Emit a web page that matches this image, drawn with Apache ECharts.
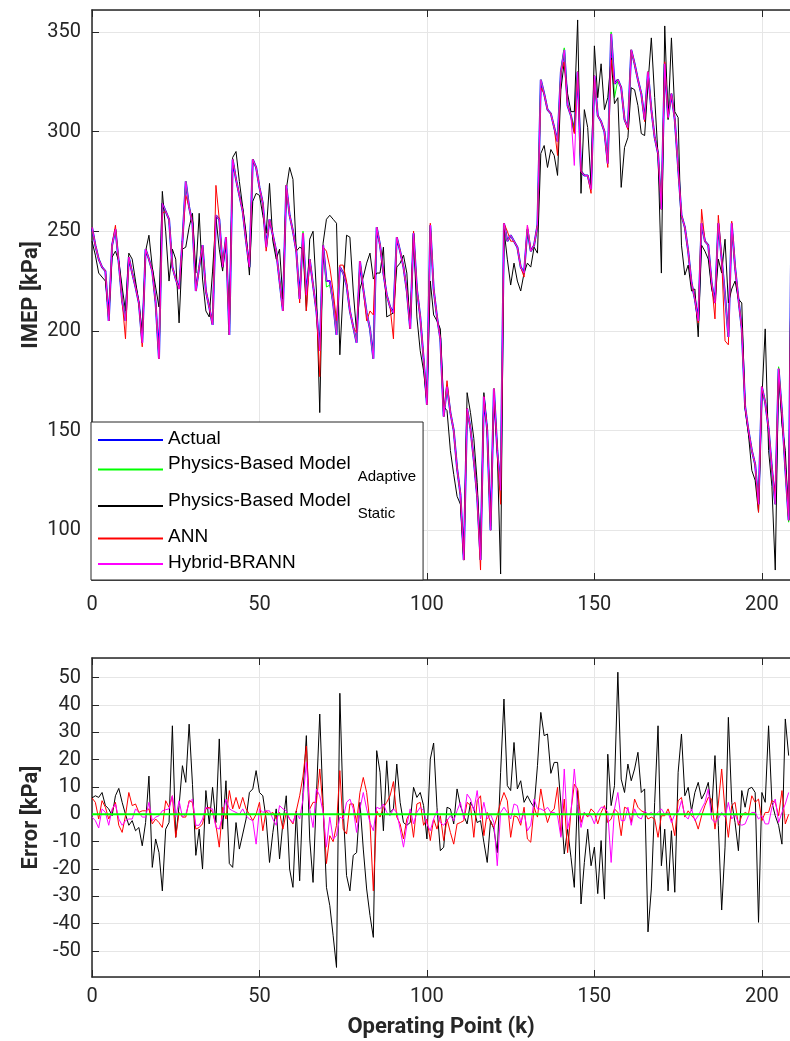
<!DOCTYPE html>
<html>
<head>
<meta charset="utf-8">
<script src="https://cdn.jsdelivr.net/npm/echarts@6/dist/echarts.min.js"></script>
<style>
html, body { margin: 0; padding: 0; background: #fff; }
#chart { width: 790px; height: 1041px; }
</style>
</head>
<body>
<div id="chart"></div>
<script>
// IMEP [kPa] for every operating point k = 0, 1, 2 ...
var actual = [252,243,236,232,230,205,243,251,234,215,
  205,237,229,222,214,194,241,236,230,214,
  186,264,260,256,232,226,221,245,275,262,
  254,220,232,243,220,212,203,258,256,232,
  247,198,286,276,268,260,245,232,286,282,
  272,264,242,256,248,240,225,210,273,258,
  250,240,216,249,218,236,223,210,190,243,
  225,225,214,198,232,229,223,210,202,194,
  235,221,209,201,186,252,243,229,218,212,
  209,247,240,232,220,201,249,221,207,186,
  163,253,221,207,196,157,172,159,150,131,
  118,85,161,151,135,117,85,167,150,100,
  171,140,120,254,245,248,245,242,232,229,
  251,240,243,253,326,319,311,309,302,295,
  330,341,313,308,300,330,280,278,278,271,
  328,308,305,300,284,349,324,326,322,306,
  302,341,334,326,319,306,330,311,297,289,
  261,334,307,319,306,282,258,252,240,224,
  216,205,254,245,243,224,214,254,236,218,
  197,254,232,216,201,162,150,140,133,113,
  172,164,151,131,113,181,159,131,105,290];

var adaptive = [252,243,236,232,230,205,243,251,234,215,
  205,237,229,222,214,194,241,236,230,214,
  186,264,260,256,232,226,221,245,275,262,
  254,220,232,243,220,212,203,258,256,232,
  247,198,286,276,268,260,245,232,286,282,
  272,264,242,256,248,240,225,210,273,258,
  250,240,216,250,218,236,223,210,190,243,
  222,223,214,198,232,229,223,210,202,194,
  235,221,209,201,186,252,243,229,218,212,
  209,247,240,232,220,201,249,221,207,186,
  163,253,221,207,196,157,172,159,150,131,
  118,85,161,151,135,117,85,167,150,100,
  171,140,120,254,245,248,245,242,232,229,
  251,240,243,253,326,319,311,309,302,295,
  330,342,313,308,300,330,280,278,278,271,
  328,308,305,300,284,350,317,326,322,306,
  302,341,334,326,319,306,330,311,297,289,
  261,334,307,319,306,282,258,252,240,224,
  216,205,254,245,243,224,214,254,236,218,
  197,254,232,216,201,162,150,140,133,113,
  172,164,151,131,113,182,159,131,104,290];

var staticModel = [245,238,229,227,225,208,237,240,235,222,
  210,239,236,225,214,199,240,248,232,222,
  212,270,250,225,241,236,204,241,242,252,
  259,229,259,226,210,207,230,257,241,230,
  246,203,287,290,275,262,249,228,265,269,
  268,258,249,274,245,236,241,216,271,282,
  276,240,242,241,210,246,250,220,159,244,
  256,258,256,254,188,221,248,247,220,199,
  221,227,234,239,226,229,229,242,207,208,
  209,232,234,238,229,201,250,207,190,180,
  164,225,208,205,201,162,160,140,128,117,
  113,85,169,159,146,124,87,169,150,102,
  168,140,78,251,236,223,234,225,220,229,
  234,232,242,239,289,293,282,291,288,278,
  321,335,319,310,310,356,269,311,302,273,
  343,317,334,311,317,337,314,317,272,292,
  297,322,321,313,299,298,324,347,317,288,
  229,353,306,347,310,307,243,228,233,220,
  221,197,243,240,236,221,214,236,229,246,
  214,221,225,216,214,161,148,130,125,109,
  166,201,140,122,80,180,153,140,105,290];

var ann = [252,243,236,232,230,205,243,253,234,215,
  196,237,229,222,214,192,241,236,230,214,
  186,259,260,256,232,226,221,245,268,262,
  254,220,232,243,220,212,203,273,256,232,
  247,198,286,276,268,260,245,232,286,282,
  272,264,240,256,248,240,225,210,273,258,
  250,240,214,249,210,236,223,210,177,242,
  240,232,220,205,233,233,225,210,202,199,
  235,221,205,210,208,252,243,229,218,212,
  196,247,240,232,220,201,250,221,207,186,
  163,254,221,207,196,157,175,159,150,131,
  118,85,161,151,135,117,80,167,150,100,
  171,140,113,254,250,245,245,242,232,227,
  253,240,243,253,322,319,311,309,302,288,
  330,335,313,308,299,330,280,278,278,269,
  328,308,305,300,282,336,324,326,322,306,
  301,341,334,326,319,305,330,311,297,289,
  261,335,307,319,306,282,258,252,240,224,
  216,204,261,245,243,224,206,258,236,195,
  193,255,232,216,201,162,150,140,133,109,
  172,164,151,131,117,181,159,131,105,290];

var hybrid = [252,243,236,232,230,205,243,251,234,215,
  205,237,229,222,214,194,241,236,230,214,
  186,264,260,256,232,226,221,245,275,262,
  254,220,232,243,220,212,203,258,256,232,
  247,198,286,276,268,260,245,232,286,282,
  272,264,242,256,248,240,225,210,273,258,
  250,240,216,249,218,236,223,210,190,243,
  225,225,214,198,232,229,223,210,202,194,
  235,221,209,201,186,252,243,229,218,212,
  209,247,240,232,220,201,249,221,207,186,
  163,253,221,207,196,157,172,159,150,131,
  118,85,161,151,135,117,85,167,150,100,
  171,140,120,254,245,248,245,242,232,229,
  253,240,243,253,326,319,311,309,302,295,
  330,341,313,308,283,330,280,278,278,271,
  328,308,305,300,284,349,324,326,322,306,
  302,341,334,326,319,306,330,311,297,289,
  261,334,307,319,306,282,258,252,240,224,
  216,205,254,245,243,224,214,254,236,218,
  197,254,232,216,201,162,150,140,133,113,
  172,164,151,131,113,181,159,131,105,290];

// prediction errors [kPa]
var errStatic = [6,6.8,6.2,8,3.2,2,-0.5,6.8,9.5,4.4,
  0,-4,-2.3,-6,-4.8,-11.5,-3,14,-19.4,-9,
  -14,-28,-5.4,-3,32.4,-8.4,3.2,17.8,11.7,33,
  11,-15,-5.4,-20,8.7,-3.5,9.9,-3,27.6,-5.4,
  12.3,-18,-19.4,-3,-12.7,-7.2,-1.7,8,9.3,16,
  8,6.8,-1.7,-17.6,-6.6,2,-16.3,-3,6.8,-20,
  -26.7,1.3,-24.3,8,28.8,-9,-24.9,6.8,36.7,3.2,
  -26.7,-33.4,-44.4,-56,44.3,2,-22.4,-28,-15,-14,
  4.4,-12.7,-27.3,-37,-45,23.3,15.4,-6,19.6,0.7,
  2,18.4,4.4,-3,-4,-3,9.9,6.2,8,3.2,
  -9,20.2,26.1,2.6,-13.3,-12,2.6,2,-3.5,9.3,
  3.2,-0.5,-3.5,4.4,2,-3,-2.3,-10.2,-17.6,-2.3,
  -5.4,-14,15.4,42.2,10.5,8.7,26.3,9.3,12.3,4.4,
  6.8,4.4,2.6,17.8,37.3,28.8,29.4,15,19,19,
  3.8,-14.5,-5.4,-15.7,-26.7,8.7,-32.8,-17.6,-5.4,-18.8,
  -12,-29,-9.6,-31,22,3.2,10.5,52,12.9,8,
  18.4,12.3,16.6,22.7,8,9.3,-43,-27.3,4.4,32.4,
  -18.8,-5.4,-28,-6,-28.5,15.4,29.4,6.8,9.9,1.3,
  8,11.7,5.6,8,11.7,0.7,21.5,-4,-35,-12,
  35.5,4.4,-3,-13.3,8.7,2.6,9.3,9.9,8,-39.5,
  8,4.4,32.4,4.4,-0.5,-4,-10.9,34.9,21.5];

var errAnn = [6,4.4,-1.7,5,2.6,-1.7,1.3,4.4,-4,-6.6,
  -0.5,8,3.2,3.8,0.7,1.3,1.3,2,-3.5,-1.7,
  -3,-4.8,5,2.6,6.8,-8.4,0.7,-1,-1,5,
  4.4,-5.4,-4.8,-3.5,2,2.6,0.7,-4,-12,2.6,
  -1.7,8.7,2,6.2,2,6.2,2,0,-2.3,0,
  4.4,-6,1.3,0,0.7,-1.7,0.7,-5.4,0.7,-1.7,
  -3.5,1.3,6.8,14,25,2,4.4,4.4,16.6,2,
  -18,-7.8,-10,-4,16,-5.4,-7.2,3.8,3.8,-3,
  8,13.5,8,-3,-28,1.3,-1,2.6,4.4,6.8,
  12,-1,-3.5,-9,-1.7,0.7,-8.4,3.8,4.4,-4,
  -1.7,-9.6,-1.7,-5.4,-0.5,-9.6,-1.7,-6.6,-10.9,-3.5,
  -3,-2.3,4.4,3.2,-8.4,5,6.8,-7.8,0.7,-3,
  -4.8,-0.5,4.4,8,5,-8.4,-0.5,-1,-4,2.6,
  -9,-10.2,2.6,-1,9.3,2,-3,0.7,2,9.9,
  -7.8,5.6,-14,1.3,11,9.3,-3,0.7,-1,2,
  0.7,-3.5,0.7,3.2,-3,-1.7,2,0.7,-7.8,2.6,
  2,-3,5.6,2.6,1.3,0.7,-1.7,-1,-1.7,-8.4,
  -0.5,-0.5,2,-1.7,-7.8,5,6.2,-1,1.3,-0.5,
  -1.7,-5.4,-0.5,3.2,6.2,5.6,-5.4,3.8,16.6,1.3,
  -8.4,3.2,4.4,-4,-0.5,0.7,0,6.8,4.4,5.6,
  -2.3,0.7,0.7,5,4.4,-0.5,8.7,-3.5,0];

var errHybrid = [-1,-2.3,-5,2,0.7,-4,2,3.8,-1.7,-4,
  -2.3,-1.7,-1.7,2,0.7,-1,-1,4.4,-2.3,-1,
  -0.5,1.3,1.7,2,6.8,-1,5,-1,0,4.4,
  5.6,-4,-4,-1.7,2.6,2,2,-4.8,-5.4,-0.5,
  5.6,2,1.3,0.7,0,2,-0.5,-1.7,-2.3,-10.9,
  2,0.7,1.3,1.3,-1.7,-4,3.2,2,1.3,-1.7,
  -3,0.7,-1.7,5.6,19,2,-4.8,9.3,6.8,0.7,
  -12,-1,-9,-7.8,-1,-1.7,4.4,5.6,2,-6.6,
  2,8,2,-3,-6,2.6,2,3.8,0.7,-0.5,
  2,0.7,-5.4,-12,-4,2,-3.5,0.7,2.6,1.3,
  -3.5,-6,-1.7,1.3,-3,-4,-2.3,-0.5,-2.3,1.3,
  4.4,-1.7,7.4,5.6,1.3,8.7,-1.7,4.4,-1.7,0,
  -3,-18.8,0.7,2.6,0.7,-1.7,3.8,3.2,-3,0.7,
  -6,-4,5.6,2,2,1.3,2.6,0.7,0.7,-0.5,
  -8.4,16.6,-5.4,0.7,16.6,3.2,-4.8,0.7,-0.5,-0.5,
  -3.5,0.7,2.6,2.6,0.7,-17.6,2,8,-2.3,-2.3,
  2.6,-4,2,-1,-1.7,1.3,0,0.7,-0.5,0.7,
  2,0,0.7,-3,0,0.7,5,-0.5,-1.7,2,
  -2.3,-0.5,2,4.4,9.3,-1.7,-3,-1.7,0.7,-1,
  4.4,-1.7,0,-3,-4,-3.5,-0.5,0.7,0.7,-1.7,
  -0.5,-3.5,-3.5,2.6,5.6,-3,0.7,3.8,8];

var errAdaptive = [0,0,0,0,0,0,0,0,0,0, 0,0,0,0,0,0,0,0,0,0,
  0,0,0,0,0,0,0,0,0,0, 0,0,0,0,0,0,0,0,0,0,
  0,0,0,0,0,0,0,0,0,0, 0,0,0,0,0,0,0,0,0,0,
  0,0,0,0,0,0,0,0,0,0, 0,0,0,0,0,0,0,0,0,0,
  0,0,0,0,0,0,0,0,0,0, 0,0,0,0,0,0,0,0,0,0,
  0,0,0,0,0,0,0,0,0,0, 0,0,0,0,0,0,0,0,0,0,
  0,0,0,0,0,0,0,0,0,0, 0,0,0,0,0,0,0,0,0,0,
  0,0,0,0,0,0,0,0,0,0, 0,0,0,0,0,0,0,0,0,0,
  0,0,0,0,0,0,0,0,0,0, 0,0,0,0,0,0,0,0,0,0,
  0,0,0,0,0,0,0,0,0,0, 0,0,0,0,0,0,0,0,0];

var legendNames = ['Actual', 'Physics-Based Model Adaptive', 'Physics-Based Model Static', 'ANN', 'Hybrid-BRANN'];
var legendMain = ['Actual', 'Physics-Based Model', 'Physics-Based Model', 'ANN', 'Hybrid-BRANN'];
var legendSub = ['', 'Adaptive', 'Static', '', ''];
var seriesColors = ['#0000ff', '#00ff00', '#000000', '#ff0000', '#ff00ff'];

var axisColor = '#262626';
var gridColor = '#e6e6e6';
var tickFont = 'Roboto';

function pts(arr) {
  return arr.map(function (v, i) { return [i, v]; });
}

function lineSeries(name, arr, color, width, xi, yi) {
  return {
    name: name, type: 'line', xAxisIndex: xi, yAxisIndex: yi,
    data: pts(arr), showSymbol: false, symbol: 'none',
    lineStyle: { color: color, width: width }, itemStyle: { color: color },
    emphasis: { disabled: true }
  };
}

function xAxisDef(grid, pos, labels, margin, name) {
  return {
    gridIndex: grid, type: 'value', min: 0, max: 208.4, interval: 50, position: pos,
    axisLine: { onZero: false, lineStyle: { color: axisColor, width: 1.5 } },
    axisTick: { inside: true, length: 7, lineStyle: { color: axisColor } },
    axisLabel: { show: labels, fontFamily: tickFont, fontSize: 20, color: axisColor, margin: margin, showMaxLabel: false },
    splitLine: { show: labels, lineStyle: { color: gridColor } },
    name: name || '', nameLocation: 'middle', nameGap: 39, nameMoveOverlap: false,
    nameTextStyle: { fontFamily: tickFont, fontWeight: 'bold', fontSize: 22, color: axisColor }
  };
}

function yAxisDef(grid, min, max, splitNumber, name) {
  return {
    gridIndex: grid, type: 'value', min: min, max: max, splitNumber: splitNumber,
    axisLine: { show: true, onZero: false, lineStyle: { color: axisColor, width: 1.5 } },
    axisTick: { show: true, inside: true, length: 7, lineStyle: { color: axisColor } },
    axisLabel: { fontFamily: tickFont, fontSize: 20, color: axisColor, margin: 11, showMinLabel: false, showMaxLabel: false },
    splitLine: { show: true, lineStyle: { color: gridColor } },
    name: name, nameLocation: 'middle', nameGap: 50, nameMoveOverlap: false,
    nameTextStyle: { fontFamily: tickFont, fontWeight: 'bold', fontSize: 22, color: axisColor }
  };
}

var chart = echarts.init(document.getElementById('chart'), null, { renderer: 'canvas' });
chart.setOption({
  animation: false,
  backgroundColor: '#fff',
  grid: [
    { left: 92, top: 10, width: 698, height: 570 },
    { left: 92, top: 658, width: 698, height: 319 }
  ],
  legend: {
    data: legendNames, orient: 'vertical', left: 91, top: 422,
    padding: [7, 7, 8, 6], itemWidth: 65, itemHeight: 14, itemGap: 6.5,
    backgroundColor: '#fff', borderColor: axisColor, borderWidth: 1, borderRadius: 0,
    selectedMode: false,
    itemStyle: { opacity: 0 },
    textStyle: {
      fontFamily: 'Liberation Sans', fontSize: 19, color: '#000',
      rich: {
        m: { fontFamily: 'Liberation Sans', fontSize: 19, lineHeight: 22, verticalAlign: 'top', color: '#000' },
        s: { fontFamily: 'Liberation Sans', fontSize: 15, lineHeight: 30, padding: [0, 0, 0, 7], verticalAlign: 'bottom', color: '#000' }
      }
    },
    formatter: function (name) {
      var i = legendNames.indexOf(name);
      var txt = '{m|' + legendMain[i] + '}';
      if (legendSub[i]) { txt += '{s|' + legendSub[i] + '}'; }
      return txt;
    }
  },
  xAxis: [
    xAxisDef(0, 'bottom', true, 15),
    xAxisDef(0, 'top', false, 8),
    xAxisDef(1, 'bottom', true, 10, 'Operating Point (k)'),
    xAxisDef(1, 'top', false, 8)
  ],
  yAxis: [
    yAxisDef(0, 75, 361, 5, 'IMEP [kPa]'),
    yAxisDef(1, -59.5, 57.2, 11, 'Error [kPa]')
  ],
  series: [
    lineSeries(legendNames[0], actual, seriesColors[0], 2, 0, 0),
    lineSeries(legendNames[1], adaptive, seriesColors[1], 1, 0, 0),
    lineSeries(legendNames[2], staticModel, seriesColors[2], 1, 0, 0),
    lineSeries(legendNames[3], ann, seriesColors[3], 1, 0, 0),
    lineSeries(legendNames[4], hybrid, seriesColors[4], 1, 0, 0),
    lineSeries('Static error', errStatic, seriesColors[2], 1, 2, 1),
    lineSeries('ANN error', errAnn, seriesColors[3], 1, 2, 1),
    lineSeries('Hybrid error', errHybrid, seriesColors[4], 1, 2, 1),
    lineSeries('Adaptive error', errAdaptive, seriesColors[1], 2, 2, 1)
  ]
});
</script>
</body>
</html>
